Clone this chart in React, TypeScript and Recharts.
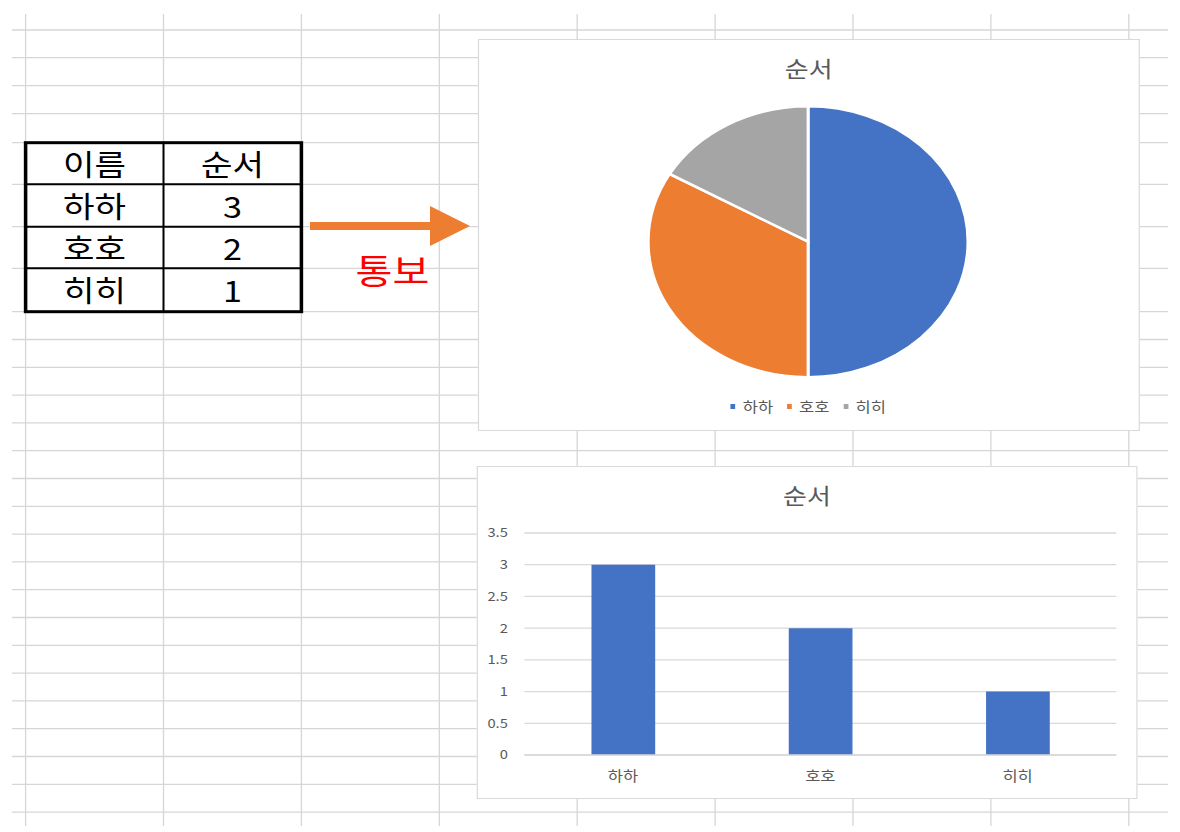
import { PieChart, Pie, Cell, Legend, BarChart, Bar, XAxis, YAxis, CartesianGrid } from "recharts";

// the source screenshot is stretched sideways, so everything is laid out
// narrower and the whole page is scaled back out on x
const S = 1.18;
const sx = (v: number) => v / S;

const NAMES = ["하하", "호호", "히히"];
const ORDER = [3, 2, 1];
const HEADERS = ["이름", "순서"];
const Y_TICKS = [0, 0.5, 1, 1.5, 2, 2.5, 3, 3.5];
const COLORS = ["#4472C4", "#ED7D31", "#A5A5A5"];
const TITLE = "순서";
const NOTE = "통보";

const data = NAMES.map((name, i) => ({ name, value: ORDER[i] }));

const FONT = "'Noto Sans CJK KR', 'Noto Sans', sans-serif";
const TEXT = "#595959";
const LINE = "#d9d9d9";

// spreadsheet grid
const COL_X0 = 25.6;
const COL_W = 137.9;
const COLS = 9;
const ROW_Y0 = 30;
const ROW_H = [27.7, 28, 28, 29, 41.6, 42.4, 41.6, 43.4, 27.8, 27.8, 27.8, 27.8, 27.8, 27.8, 27.8, 27.8, 27.8, 27.8, 27.8, 27.8, 27.8, 27.8, 27.8, 27.8, 27.8, 27.8];
const rowYs = ROW_H.reduce((acc, h) => [...acc, acc[acc.length - 1] + h], [ROW_Y0]);
const colXs = Array.from({ length: COLS }, (_, i) => COL_X0 + i * COL_W);

function Sheet() {
  return (
    <svg width={1000} height={832} style={{ position: "absolute", left: 0, top: 0 }}>
      {colXs.map((x) => (
        <line key={"v" + x} x1={sx(x)} x2={sx(x)} y1={14} y2={826} stroke="#d6d6d6" strokeWidth={1.3 / S} />
      ))}
      {rowYs.map((y) => (
        <line key={"h" + y} x1={sx(12)} x2={sx(1168)} y1={y} y2={y} stroke="#d6d6d6" strokeWidth={1.3} />
      ))}
    </svg>
  );
}

function Table() {
  const xs = [colXs[0], colXs[1], colXs[2]];
  const ys = rowYs.slice(4, 9);
  const rows = [HEADERS, ...NAMES.map((n, i) => [n, String(ORDER[i])])];
  return (
    <>
      {rows.map((row, r) =>
        row.map((txt, c) => (
          <div
            key={r + "-" + c}
            style={{
              position: "absolute",
              left: sx(xs[c]),
              top: ys[r],
              width: sx(xs[c + 1] - xs[c]),
              height: ys[r + 1] - ys[r],
              display: "flex",
              alignItems: "center",
              justifyContent: "center",
              fontSize: 29,
              lineHeight: 1,
              color: "#000",
            }}
          >
            {txt}
          </div>
        ))
      )}
      <svg width={1000} height={832} style={{ position: "absolute", left: 0, top: 0 }}>
        {ys.slice(1, -1).map((y) => (
          <line key={y} x1={sx(xs[0])} x2={sx(xs[2])} y1={y} y2={y} stroke="#000" strokeWidth={2} />
        ))}
        <line x1={sx(xs[1])} x2={sx(xs[1])} y1={ys[0]} y2={ys[4]} stroke="#000" strokeWidth={2 / S} />
        <rect
          x={sx(xs[0])}
          y={ys[0]}
          width={sx(xs[2] - xs[0])}
          height={ys[4] - ys[0]}
          fill="none"
          stroke="#000"
          strokeWidth={3}
        />
        <polygon
          points={[
            [310, 222],
            [430, 222],
            [430, 206],
            [470, 226],
            [430, 246],
            [430, 230],
            [310, 230],
          ]
            .map(([x, y]) => `${sx(x)},${y}`)
            .join(" ")}
          fill="#ED7D31"
        />
      </svg>
      <div
        style={{
          position: "absolute",
          left: sx(392.5) - 50,
          width: 100,
          top: 253,
          textAlign: "center",
          fontSize: 34,
          lineHeight: 1,
          color: "#FF0000",
        }}
      >
        {NOTE}
      </div>
    </>
  );
}

function ChartBox({ left, top, right, bottom, children }: any) {
  return (
    <div
      style={{
        position: "absolute",
        left: sx(left),
        top,
        width: sx(right - left),
        height: bottom - top,
        boxSizing: "border-box",
        border: `1px solid ${LINE}`,
        background: "#fff",
      }}
    >
      <div
        style={{
          position: "absolute",
          left: 0,
          right: 0,
          top: 16,
          textAlign: "center",
          fontSize: 22,
          lineHeight: 1,
          color: TEXT,
        }}
      >
        {TITLE}
      </div>
      {children}
    </div>
  );
}

const renderLegend = (props: any) => (
  <div style={{ display: "flex", justifyContent: "center", fontSize: 14, lineHeight: "16px", color: TEXT }}>
    {(props.payload || []).map((entry: any, i: number) => (
      <span key={i} style={{ display: "inline-flex", alignItems: "center", marginRight: i < NAMES.length - 1 ? 12 : 0 }}>
        <span style={{ display: "inline-block", width: 4, height: 5, background: COLORS[i], marginRight: 6 }} />
        {entry.value}
      </span>
    ))}
  </div>
);

export default function App() {
  return (
    <div
      style={{
        position: "absolute",
        left: 0,
        top: 0,
        width: 1000,
        height: 832,
        background: "#fff",
        transform: `scaleX(${S})`,
        transformOrigin: "0 0",
        fontFamily: FONT,
        overflow: "hidden",
      }}
    >
      <Sheet />
      <Table />

      <ChartBox left={478} top={39.3} right={1139.3} bottom={430.7}>
        <PieChart width={558} height={389} margin={{ top: 0, right: 0, bottom: 0, left: 0 }}>
          <Pie
            data={data}
            dataKey="value"
            nameKey="name"
            cx={sx(808 - 479)}
            cy={201.7}
            outerRadius={135.5}
            startAngle={90}
            endAngle={-270}
            stroke="#fff"
            strokeWidth={2.5}
            isAnimationActive={false}
          >
            {data.map((_, i) => (
              <Cell key={i} fill={COLORS[i]} />
            ))}
          </Pie>
          <Legend content={renderLegend} wrapperStyle={{ top: 358, left: 0, width: 558 }} />
        </PieChart>
      </ChartBox>

      <ChartBox left={476.5} top={466} right={1137.3} bottom={799}>
        <BarChart width={558} height={331} data={data} margin={{ top: 66, right: 17, bottom: 0, left: 0 }} barCategoryGap="34%">
          <CartesianGrid horizontal vertical={false} stroke={LINE} strokeWidth={1.3} />
          <XAxis
            dataKey="name"
            height={43}
            axisLine={{ stroke: LINE, strokeWidth: 1.3 }}
            tickLine={false}
            tickMargin={10}
            tick={{ fill: TEXT, fontSize: 14 }}
          />
          <YAxis
            width={39.4}
            domain={[0, 3.5]}
            ticks={Y_TICKS}
            axisLine={false}
            tickLine={false}
            tickMargin={8}
            tick={{ fill: TEXT, fontSize: 12.5 }}
          />
          <Bar dataKey="value" fill={COLORS[0]} isAnimationActive={false} />
        </BarChart>
      </ChartBox>
    </div>
  );
}
